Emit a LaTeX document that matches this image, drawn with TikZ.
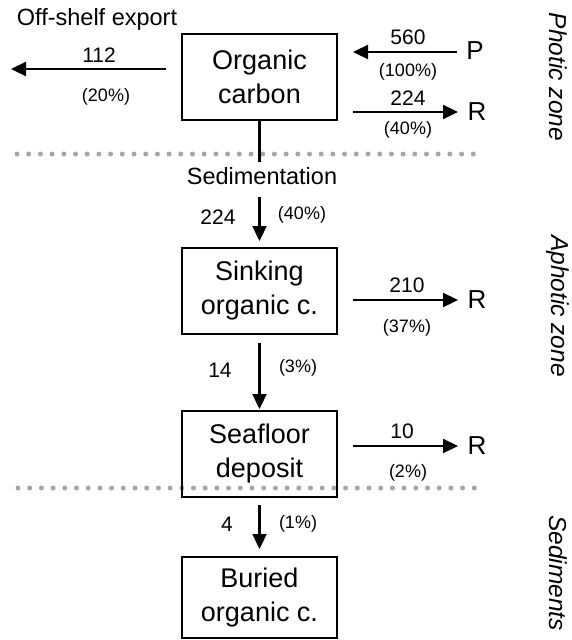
\documentclass[tikz,border=0pt]{standalone}
\usepackage{fontspec}
\setmainfont{Liberation Sans}
\usetikzlibrary{arrows.meta}
\tikzset{
  box/.style={draw, line width=2.5pt, minimum width=155, minimum height=86, align=center, inner sep=0pt, font=\fontsize{27}{34}\selectfont},
  arr/.style={line width=2.3pt, -{Triangle[length=15pt,width=14pt]}},
  num/.style={font=\fontsize{21}{24}\selectfont, inner sep=0pt},
  pct/.style={font=\fontsize{18}{21}\selectfont, inner sep=0pt},
  big/.style={font=\fontsize{26}{30}\selectfont, inner sep=0pt},
  lbl/.style={font=\fontsize{23.5}{28}\selectfont, inner sep=0pt},
  zone/.style={font=\fontsize{24.5}{28}\selectfont\itshape, rotate=-90, inner sep=0pt},
  dots/.style={gray!70, line width=5pt, line cap=round, dash pattern=on 0pt off 11.7pt}
}
\begin{document}
\begin{tikzpicture}[x=1pt,y=-1pt]
\useasboundingbox (0,0) rectangle (572,640);
% dotted zone boundaries
\draw[dots] (17,154) -- (482,154);
\draw[dots] (18,488) -- (482,488);
% boxes
\node[box] (oc) at (259.5,77) {Organic\\carbon};
\node[box] (sink) at (259.5,291) {Sinking\\organic c.};
\node[box] (sea) at (259.5,454) {Seafloor\\deposit};
\node[box, minimum height=81] (bur) at (259.5,597.5) {Buried\\organic c.};
% texts
\node[lbl] (offshelf) at (97,19) {Off-shelf export};
\node[num] (n112) at (99,55) {112};
\node[pct] (p20) at (106,97) {(20\%)};
\node[num] (n560) at (408,37) {560};
\node[pct] (p100) at (408,72) {(100\%)};
\node[big] (P) at (475,51) {P};
\node[num] (n224a) at (408,98) {224};
\node[pct] (p40a) at (408,130) {(40\%)};
\node[big] (R1) at (477,112) {R};
\node[lbl] (sedim) at (262,176) {Sedimentation};
\node[num] (n224b) at (218,217) {224};
\node[pct] (p40b) at (302,215) {(40\%)};
\node[num] (n210) at (407,285) {210};
\node[pct] (p37) at (407,328) {(37\%)};
\node[big] (R2) at (477,300) {R};
\node[num] (n14) at (220,370) {14};
\node[pct] (p3) at (298,368) {(3\%)};
\node[num] (n10) at (402,431) {10};
\node[pct] (p2) at (408,473) {(2\%)};
\node[big] (R3) at (477,446) {R};
\node[num] (n4) at (227,524) {4};
\node[pct] (p1) at (298,524) {(1\%)};
\node[zone] (zphotic) at (558,77) {Photic zone};
\node[zone] (zaphotic) at (558,306) {Aphotic zone};
\node[zone] (zsed) at (558,573) {Sediments};
% connector end points
\coordinate (ex1) at (166,69);
\coordinate (ex2) at (11,69);
\coordinate (pin) at (457,52);
\coordinate (pout) at (353,52);
\coordinate (r1a) at (353,112);
\coordinate (r1b) at (458,112);
\coordinate (sedend) at (259.5,162);
\coordinate (s1a) at (259.5,197);
\coordinate (s1b) at (259.5,241);
\coordinate (r2a) at (353,300);
\coordinate (r2b) at (458,300);
\coordinate (s2a) at (259.5,343);
\coordinate (s2b) at (259.5,409);
\coordinate (r3a) at (353,446);
\coordinate (r3b) at (458,446);
\coordinate (s3a) at (259.5,505);
\coordinate (s3b) at (259.5,549);
% connectors
\draw[arr] (ex1) -- (ex2);
\draw[arr] (pin) -- (pout);
\draw[arr] (r1a) -- (r1b);
\draw[line width=2.3pt] (oc.south) -- (sedend);
\draw[arr] (s1a) -- (s1b);
\draw[arr] (r2a) -- (r2b);
\draw[arr] (s2a) -- (s2b);
\draw[arr] (r3a) -- (r3b);
\draw[arr] (s3a) -- (s3b);
\end{tikzpicture}
\end{document}
